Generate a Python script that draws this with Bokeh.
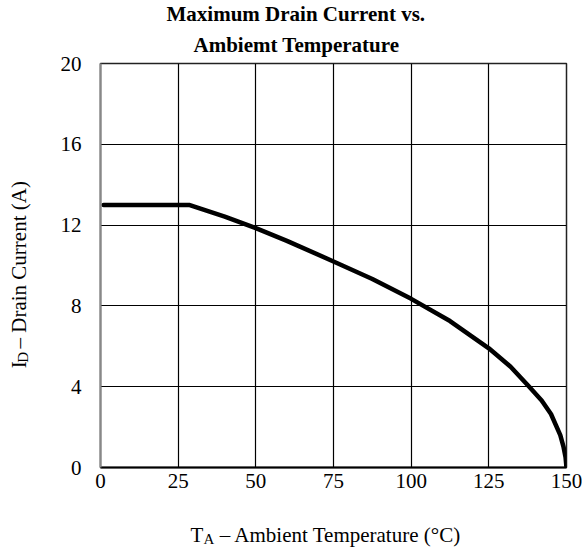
from bokeh.plotting import figure
from bokeh.models import Range1d, FixedTicker, Title
from bokeh.layouts import column, row
from bokeh.core.properties import value
from bokeh.embed import file_html
from bokeh.resources import INLINE
import math

# Data
temp_c = [1, 28.5, 40, 50, 60, 75, 87.5, 100, 112.5, 125, 132, 138, 142, 145, 148, 149, 149.7, 150]
drain_a = [13.0, 13.0, 12.42, 11.85, 11.22, 10.2, 9.33, 8.35, 7.25, 5.9, 4.99, 4.0, 3.32, 2.65, 1.6, 1.05, 0.5, 0.0]
x_ticks = [0, 25, 50, 75, 100, 125, 150]
y_ticks = [0, 4, 8, 12, 16, 20]
title_lines = ["Maximum Drain Current vs.", "Ambiemt Temperature"]
x_label_parts = ["T", "A", "\u00a0\u2013 Ambient Temperature (\u00b0C)"]
y_label_parts = ["I", "D", "\u00a0\u2013 Drain Current (A)"]

FONT = "Liberation Serif"
W, H = 582, 550
LEFT_W, MAIN_H = 40, 497
BOT_H = H - MAIN_H


def blank(width, height):
    f = figure(width=width, height=height, output_backend="svg", toolbar_location=None,
               x_range=Range1d(0, width), y_range=Range1d(0, height),
               x_axis_type=None, y_axis_type=None, min_border=0)
    f.outline_line_color = None
    f.grid.visible = False
    f.background_fill_color = "white"
    f.border_fill_color = "white"
    return f


# ---- main chart ----
p = figure(width=W - LEFT_W, height=MAIN_H, output_backend="svg", toolbar_location=None,
           x_range=Range1d(0, 150), y_range=Range1d(0, 20),
           min_border_left=100 - LEFT_W, min_border_right=16, min_border_top=63,
           min_border_bottom=MAIN_H - 467)
p.background_fill_color = "white"
p.border_fill_color = "white"
p.outline_line_color = "#222222"
p.outline_line_width = 1.5

# two-line title: p.title is the outer (first) line, the added Title sits next to the frame
p.title.text = title_lines[0]
p.title.align = "left"
p.title.offset = 66
p.title.standoff = -4
p.title.text_font = FONT
p.title.text_font_size = "21px"
p.title.text_font_style = "bold"
p.title.text_color = "black"
p.add_layout(Title(text=title_lines[1], align="left", offset=93, standoff=14, text_font=FONT,
                   text_font_size="21px", text_font_style="bold", text_color="black"), "above")

p.xaxis.ticker = FixedTicker(ticks=x_ticks)
p.yaxis.ticker = FixedTicker(ticks=y_ticks)
p.xgrid.ticker = FixedTicker(ticks=x_ticks)
p.ygrid.ticker = FixedTicker(ticks=y_ticks)
for g in (p.xgrid, p.ygrid):
    g.grid_line_color = "black"
    g.grid_line_alpha = 1.0
    g.grid_line_width = 1.2

for ax in (p.xaxis, p.yaxis):
    ax.major_tick_out = 0
    ax.major_tick_in = 0
    ax.minor_tick_out = 0
    ax.minor_tick_in = 0
    ax.major_label_text_font = FONT
    ax.major_label_text_font_size = "21px"
    ax.major_label_text_color = "black"

p.xaxis.axis_line_color = "black"
p.xaxis.axis_line_width = 2
p.yaxis.axis_line_color = "#888888"
p.yaxis.axis_line_width = 2
p.xaxis.major_label_standoff = 6
p.yaxis.major_label_standoff = 19

p.line(temp_c, drain_a, line_color="black", line_width=4.5, line_join="round", line_cap="round")

# ---- y label panel (rotated) ----
yl = blank(LEFT_W, MAIN_H)
def ly(page_y):
    return MAIN_H - page_y
yl.text(x=[18, 18], y=[ly(375), ly(357)], text=[y_label_parts[0], y_label_parts[2]],
        angle=math.pi / 2, text_font=value(FONT), text_font_size=value("21px"),
        text_align="left", text_baseline="alphabetic", text_color="black")
yl.text(x=[22], y=[ly(368)], text=[y_label_parts[1]], angle=math.pi / 2,
        text_font=value(FONT), text_font_size=value("15px"),
        text_align="left", text_baseline="alphabetic", text_color="black")

# ---- x label panel ----
xl = blank(W, BOT_H)
def by(page_y):
    return BOT_H - (page_y - MAIN_H)
xl.text(x=[190, 214], y=[by(534), by(534)], text=[x_label_parts[0], x_label_parts[2]],
        text_font=value(FONT), text_font_size=value("21px"),
        text_align="left", text_baseline="alphabetic", text_color="black")
xl.text(x=[203], y=[by(538)], text=[x_label_parts[1]],
        text_font=value(FONT), text_font_size=value("15px"),
        text_align="left", text_baseline="alphabetic", text_color="black")

layout = column(row(yl, p, spacing=0), xl, spacing=0)
open("out.html", "w").write(file_html(layout, INLINE))
